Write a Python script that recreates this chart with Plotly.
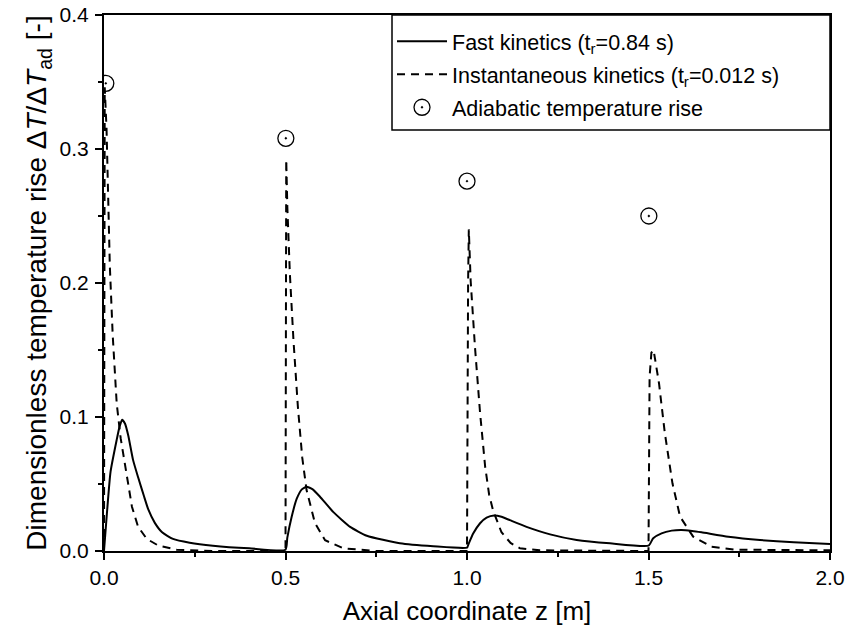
import plotly.graph_objects as go

# Fast kinetics (t_r = 0.84 s) - solid line
z_fast = [0.0, 0.008, 0.018, 0.035, 0.043, 0.050, 0.058, 0.067, 0.080, 0.094, 0.110, 0.122, 0.140,
          0.160, 0.190, 0.236, 0.300, 0.400, 0.500,
          0.505, 0.517, 0.531, 0.545, 0.558, 0.575, 0.595, 0.632, 0.678, 0.724, 0.815, 0.907, 1.000,
          1.004, 1.017, 1.036, 1.054, 1.075, 1.095, 1.118, 1.164, 1.229, 1.302, 1.394, 1.500,
          1.513, 1.536, 1.564, 1.591, 1.620, 1.646, 1.720, 1.807, 1.900, 2.000]
v_fast = [0.0, 0.028, 0.059, 0.083, 0.093, 0.098, 0.095, 0.086, 0.068, 0.055, 0.041, 0.031, 0.021,
          0.014, 0.009, 0.0062, 0.004, 0.002, 0.001,
          0.010, 0.0256, 0.039, 0.046, 0.048, 0.046, 0.0405, 0.029, 0.018, 0.0114, 0.0057, 0.0035, 0.0025,
          0.005, 0.013, 0.0207, 0.0249, 0.0265, 0.0255, 0.023, 0.018, 0.0124, 0.0082, 0.0057, 0.004,
          0.0095, 0.0132, 0.0152, 0.0157, 0.015, 0.014, 0.0107, 0.0082, 0.0065, 0.0052]

# Instantaneous kinetics (t_r = 0.012 s) - dashed line
z_inst = [0.0, 0.002, 0.007, 0.011, 0.016, 0.024, 0.035, 0.046, 0.061, 0.077, 0.094, 0.118, 0.150, 0.200,
          0.300, 0.500,
          0.502, 0.505, 0.512, 0.522, 0.534, 0.546, 0.558, 0.581, 0.609, 0.660, 0.750, 1.000,
          1.003, 1.005, 1.010, 1.022, 1.036, 1.050, 1.061, 1.072, 1.095, 1.120, 1.146, 1.200, 1.500,
          1.503, 1.508, 1.514, 1.529, 1.545, 1.566, 1.587, 1.623, 1.674, 1.738, 2.000]
v_inst = [0.0, 0.346, 0.315, 0.264, 0.213, 0.161, 0.110, 0.084, 0.059, 0.033, 0.018, 0.009, 0.004, 0.001,
          0.0, 0.0,
          0.292, 0.257, 0.207, 0.157, 0.108, 0.070, 0.0455, 0.021, 0.008, 0.002, 0.0, 0.0,
          0.200, 0.240, 0.202, 0.152, 0.103, 0.063, 0.042, 0.030, 0.014, 0.006, 0.002, 0.0005, 0.0,
          0.130, 0.148, 0.150, 0.125, 0.088, 0.0505, 0.0256, 0.0107, 0.0032, 0.001, 0.0005]

# Adiabatic temperature rise - open circles with dot
z_adiab = [0.005, 0.501, 1.0, 1.501]
v_adiab = [0.349, 0.308, 0.276, 0.250]

x_ticks = [0.0, 0.5, 1.0, 1.5, 2.0]
y_ticks = [0.0, 0.1, 0.2, 0.3, 0.4]

FONT = "Liberation Sans, Arial, sans-serif"

fig = go.Figure()
fig.add_trace(go.Scatter(
    x=z_fast, y=v_fast, mode="lines", name="Fast kinetics (t<sub>r</sub>=0.84 s)", legendgroup="a",
    line=dict(color="black", width=2, shape="spline", smoothing=0.5)))
fig.add_trace(go.Scatter(
    x=z_inst, y=v_inst, mode="lines", name="Instantaneous kinetics (t<sub>r</sub>=0.012 s)", legendgroup="b",
    line=dict(color="black", width=2, dash="8px,6px")))
fig.add_trace(go.Scatter(
    x=z_adiab, y=v_adiab, mode="markers", name="Adiabatic temperature rise", legendgroup="c",
    marker=dict(symbol="circle-open-dot", size=16, color="black", line=dict(width=1.3, color="black"))))

axis_common = dict(
    showline=True, linecolor="black", linewidth=2, mirror=True,
    ticks="outside", ticklen=7, tickwidth=2, tickcolor="black",
    showgrid=False, zeroline=False, automargin=False,
    tickfont=dict(family=FONT, size=21, color="black"),
)

fig.update_xaxes(
    range=[0, 2.0], tickvals=x_ticks, tickformat=".1f",
    minor=dict(dtick=0.25, ticks="outside", ticklen=4, tickwidth=2, tickcolor="black"),
    title=dict(text="Axial coordinate z [m]", font=dict(family=FONT, size=26, color="black"), standoff=14),
    **axis_common)
fig.update_yaxes(
    range=[0, 0.4], tickvals=y_ticks, tickformat=".1f", ticklabelstandoff=2,
    minor=dict(dtick=0.05, ticks="outside", ticklen=4, tickwidth=2, tickcolor="black"),
    title=dict(text="Dimensionless temperature rise Δ<i>T</i>/Δ<i>T</i><sub>ad</sub> [-]",
               font=dict(family=FONT, size=28, color="black"), standoff=5),
    **axis_common)

# legend frame (reference draws a box from the top-right corner of the plot)
fig.add_shape(type="rect", xref="paper", yref="paper",
              x0=0.3967, x1=1.0, y0=0.7854, y1=1.0,
              line=dict(color="black", width=1.5), fillcolor="rgba(0,0,0,0)", layer="above")

fig.update_layout(
    width=846, height=627,
    margin=dict(l=104, r=16, t=15, b=76),
    paper_bgcolor="white", plot_bgcolor="white",
    font=dict(family=FONT, color="black"),
    legend=dict(x=0.3967, y=0.989, xanchor="left", yanchor="top",
                borderwidth=0, bgcolor="rgba(0,0,0,0)",
                font=dict(family=FONT, size=21.5, color="black"),
                itemwidth=50, tracegroupgap=2),
)

fig.write_html("out.html")
